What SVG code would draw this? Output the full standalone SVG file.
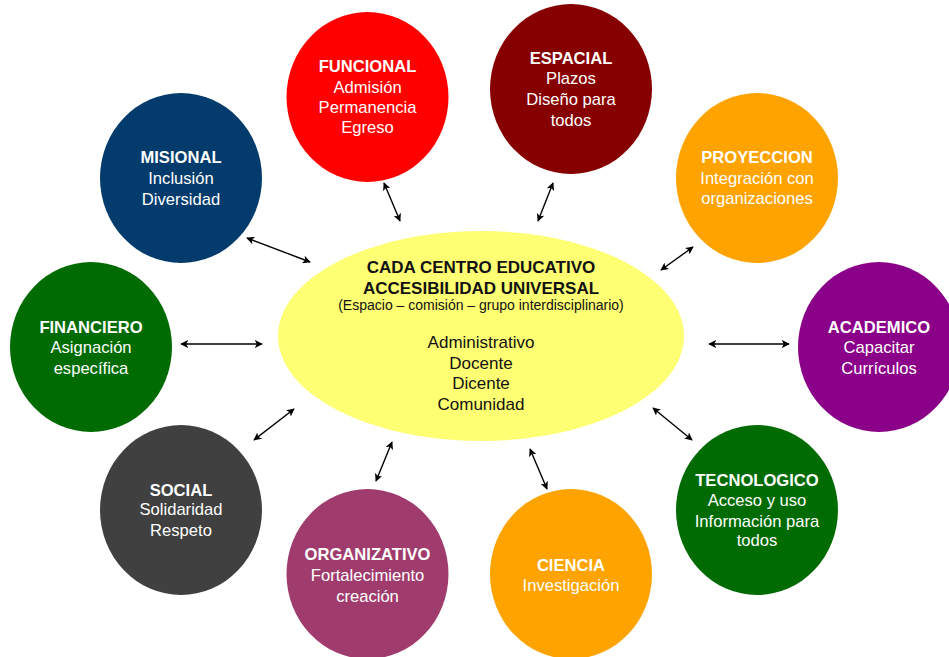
<svg xmlns="http://www.w3.org/2000/svg" width="949" height="657" viewBox="0 0 949 657">
<style>
.n text{font-family:"Liberation Sans",Arial,sans-serif;font-size:16.6px;fill:#fff;text-anchor:middle}
.n .t{font-weight:bold}
.c text{font-family:"Liberation Sans",Arial,sans-serif;fill:#111;text-anchor:middle}
#connectors line{stroke:#000;stroke-width:1.4;marker-start:url(#ah);marker-end:url(#ah)}
</style>
<defs>
<marker id="ah" viewBox="0 0 10 10" refX="9" refY="5" markerWidth="8" markerHeight="8" orient="auto-start-reverse" markerUnits="userSpaceOnUse">
<path d="M0,0 L10,5 L0,10 L2.5,5 Z" fill="#000"/>
</marker>
</defs>
<rect width="949" height="657" fill="#fff"/>

<g id="connectors">
<line x1="247" y1="238" x2="310" y2="262"/>
<line x1="384" y1="183" x2="400" y2="221"/>
<line x1="553" y1="183" x2="538" y2="221"/>
<line x1="693" y1="247" x2="661" y2="270"/>
<line x1="709" y1="344" x2="789" y2="344"/>
<line x1="181" y1="344" x2="262" y2="344"/>
<line x1="254" y1="440" x2="294" y2="409"/>
<line x1="376" y1="481" x2="392" y2="442"/>
<line x1="530" y1="449" x2="547" y2="489"/>
<line x1="653" y1="408" x2="692" y2="440"/>
</g>

<g id="center" class="c">
<ellipse cx="481" cy="336" rx="203" ry="105" fill="#ffff73"/>
<text x="481" y="273" font-size="17" font-weight="bold">CADA CENTRO EDUCATIVO</text>
<text x="481" y="294" font-size="17" font-weight="bold">ACCESIBILIDAD UNIVERSAL</text>
<text x="481" y="310" font-size="14">(Espacio – comisión – grupo interdisciplinario)</text>
<text x="481" y="348" font-size="17">Administrativo</text>
<text x="481" y="369" font-size="17">Docente</text>
<text x="481" y="389" font-size="17">Dicente</text>
<text x="481" y="410" font-size="17">Comunidad</text>
</g>

<g id="misional" class="n">
<ellipse cx="181" cy="178" rx="81" ry="85" fill="#033b6c"/>
<text class="t" x="181" y="163">MISIONAL</text>
<text x="181" y="184">Inclusión</text>
<text x="181" y="205">Diversidad</text>
</g>

<g id="funcional" class="n">
<ellipse cx="367.5" cy="97" rx="81" ry="85" fill="#ff0000"/>
<text class="t" x="367.5" y="72">FUNCIONAL</text>
<text x="367.5" y="93">Admisión</text>
<text x="367.5" y="113">Permanencia</text>
<text x="367.5" y="133">Egreso</text>
</g>

<g id="espacial" class="n">
<ellipse cx="571" cy="89" rx="81" ry="85" fill="#870000"/>
<text class="t" x="571" y="64">ESPACIAL</text>
<text x="571" y="84">Plazos</text>
<text x="571" y="105">Diseño para</text>
<text x="571" y="126">todos</text>
</g>

<g id="proyeccion" class="n">
<ellipse cx="757" cy="178" rx="81" ry="85" fill="#ffa300"/>
<text class="t" x="757" y="163">PROYECCION</text>
<text x="757" y="184">Integración con</text>
<text x="757" y="204">organizaciones</text>
</g>

<g id="academico" class="n">
<ellipse cx="879" cy="347" rx="81" ry="85" fill="#8a0088"/>
<text class="t" x="879" y="333">ACADEMICO</text>
<text x="879" y="353">Capacitar</text>
<text x="879" y="374">Currículos</text>
</g>

<g id="financiero" class="n">
<ellipse cx="91" cy="347" rx="81" ry="85" fill="#006b00"/>
<text class="t" x="91" y="333">FINANCIERO</text>
<text x="91" y="353">Asignación</text>
<text x="91" y="374">específica</text>
</g>

<g id="social" class="n">
<ellipse cx="181" cy="510" rx="81" ry="85" fill="#404040"/>
<text class="t" x="181" y="496">SOCIAL</text>
<text x="181" y="515">Solidaridad</text>
<text x="181" y="536">Respeto</text>
</g>

<g id="organizativo" class="n">
<ellipse cx="367.5" cy="574" rx="81" ry="85" fill="#a03c6d"/>
<text class="t" x="367.5" y="560">ORGANIZATIVO</text>
<text x="367.5" y="581">Fortalecimiento</text>
<text x="367.5" y="602">creación</text>
</g>

<g id="ciencia" class="n">
<ellipse cx="571" cy="574" rx="81" ry="85" fill="#ffa300"/>
<text class="t" x="571" y="571">CIENCIA</text>
<text x="571" y="591">Investigación</text>
</g>

<g id="tecnologico" class="n">
<ellipse cx="757" cy="510" rx="81" ry="85" fill="#006b00"/>
<text class="t" x="757" y="486">TECNOLOGICO</text>
<text x="757" y="506">Acceso y uso</text>
<text x="757" y="527">Información para</text>
<text x="757" y="546">todos</text>
</g>
</svg>
